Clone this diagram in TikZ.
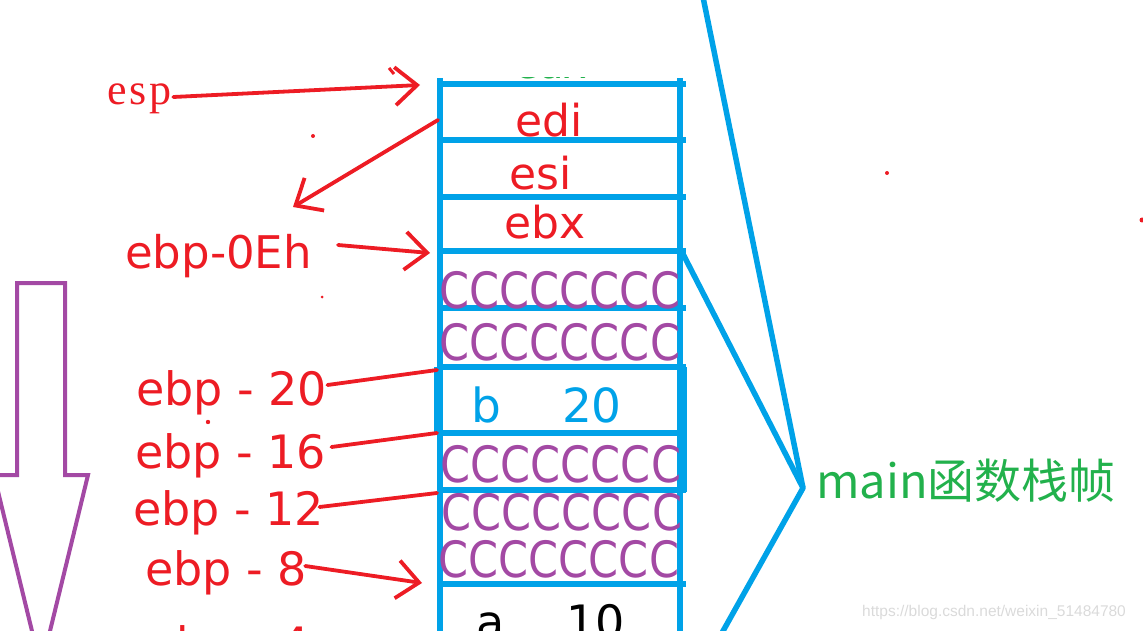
\documentclass[tikz,border=0pt]{standalone}
\usepackage{fontspec}
\setmainfont{DejaVu Sans}
\newfontfamily\cjkfont{Noto Sans CJK SC}
\newfontfamily\seriffont[LetterSpace=6]{Liberation Serif}
\newfontfamily\wmfont{Liberation Sans}
\usetikzlibrary{arrows.meta,calc}
\definecolor{pred}{RGB}{237,28,36}
\definecolor{pblue}{RGB}{0,162,232}
\definecolor{ppurple}{RGB}{163,73,164}
\definecolor{pgreen}{RGB}{34,177,76}
\definecolor{wmgray}{RGB}{218,218,218}
\newcommand\setfs[1]{\fontsize{#1}{#1}\selectfont}
\begin{document}
\begin{tikzpicture}[x=1pt,y=-1pt,
  stackline/.style={draw=pblue,line width=5.5pt},
  redline/.style={draw=pred,line width=3.8pt,line cap=round},
  handarrow/.style={redline,-{Straight Barb[length=22pt,width=38pt]}},
  regtext/.style={text=pred,font=\setfs{44},inner sep=0pt,anchor=base},
  lbl/.style={text=pred,font=\setfs{46},inner sep=0pt,anchor=base west},
  ccrow/.style={text=ppurple,font=\setfs{50},inner sep=0pt,anchor=base},
  valtext/.style={font=\setfs{46},inner sep=0pt,anchor=base}]
\useasboundingbox (0,0) rectangle (1143,631);
\clip (0,0) rectangle (1143,631);

% purple block arrow
\draw[ppurple,line width=4pt,line join=miter]
  (17,283) -- (65,283) -- (65,475) -- (88,475) -- (41,668) -- (-6,475) -- (17,475) -- cycle;

% partially hidden eax
\begin{scope}
  \clip (445,77.5) rectangle (675,90);
  \node[valtext,text=pgreen,font=\setfs{40}] (eax) at (551,79) {eax};
\end{scope}

% stack frame
\draw[stackline] (440,78) -- (440,631);
\draw[stackline] (680,78) -- (680,631);
\draw[stackline] (437,367) -- (437,433);
\draw[stackline] (684,367) -- (684,492);
\foreach \yy in {84,140,197,251,308,367,433,490,584}
  \draw[stackline] (437,\yy) -- (686,\yy);

% cell contents
\node[regtext] (edi) at (549,137) {edi};
\node[regtext] (esi) at (541,190) {esi};
\node[regtext] (ebx) at (545,238) {ebx};
\node[ccrow] (c1) at (560,308) {\scalebox{0.86}[1]{CCCCCCCC}};
\node[ccrow] (c2) at (560,360) {\scalebox{0.86}[1]{CCCCCCCC}};
\node[valtext,text=pblue,font=\setfs{47}] (bname) at (486,422) {b};
\node[valtext,text=pblue,font=\setfs{47}] (bval) at (592,422) {20};
\node[ccrow] (c3) at (561,482) {\scalebox{0.86}[1]{CCCCCCCC}};
\node[ccrow] (c4) at (562,530) {\scalebox{0.86}[1]{CCCCCCCC}};
\node[ccrow] (c5) at (559,577) {\scalebox{0.86}[1]{CCCCCCCC}};
\node[valtext,text=black] (aname) at (491,638) {a};
\node[valtext,text=black] (aval) at (596,638) {10};

% stack anchor points
\coordinate (espT) at (420,85);
\coordinate (ediL) at (438,120);
\coordinate (fromEdi) at (293,207);
\coordinate (ebxB) at (430,253);
\coordinate (s20) at (437,370);
\coordinate (s16) at (437,433);
\coordinate (s12) at (437,493);
\coordinate (s8) at (422,583);

% left labels
\node[text=pred,font=\seriffont\setfs{44},inner sep=0pt,anchor=base west] (esp) at (107,105) {esp};
\node[lbl,font=\setfs{45}] (e0) at (125,268) {ebp-0Eh};
\node[lbl] (e20) at (136,405) {ebp - 20};
\node[lbl] (e16) at (135,468) {ebp - 16};
\node[lbl] (e12) at (133,525) {ebp - 12};
\node[lbl] (e8) at (145,585) {ebp - 8};
\node[lbl] (e4) at (148,660) {ebp - 4};

% connectors
\draw[handarrow] ($(esp.base east)+(2,-8)$) -- (espT);
\draw[handarrow] (ediL) -- (fromEdi);
\draw[handarrow] ($(e0.base east)+(26,-23)$) -- (ebxB);
\draw[redline] ($(e20.base east)+(0,-20)$) -- (s20);
\draw[redline] ($(e16.base east)+(5,-21)$) -- (s16);
\draw[redline] ($(e12.base east)+(-5,-18)$) -- (s12);
\draw[handarrow] ($(e8.base east)+(-2,-19)$) -- (s8);

% stray marks
\draw[pred,line width=3pt] (389,68) -- (394,74);
\fill[pred] (313,136) circle (2);
\fill[pred] (322,297) circle (1.5);
\fill[pred] (208,422) circle (2.2);
\fill[pred] (887,173) circle (2);
\fill[pred] (1142,220) circle (2.5);

% brace to label
\coordinate (brace) at (803,488);
\draw[stackline,line join=round] (703,-3) -- (brace) -- (718,640);
\draw[stackline] (682,252) -- (brace);
\node[text=pgreen,font=\cjkfont\setfs{47},inner sep=0pt,anchor=west] (mainlbl) at (816,481) {main函数栈帧};

% watermark
\node[text=wmgray,font=\wmfont\setfs{15.5},inner sep=0pt,anchor=west] (wm) at (862,612) {https://blog.csdn.net/weixin\_51484780};
\end{tikzpicture}
\end{document}
